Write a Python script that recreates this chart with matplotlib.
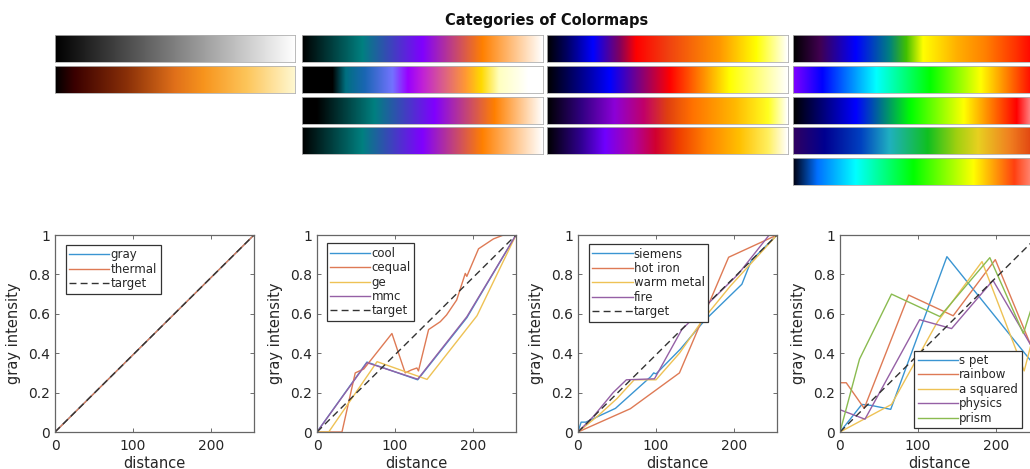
import numpy as np
import matplotlib
matplotlib.use("Agg")
import matplotlib.pyplot as plt
from matplotlib.colors import LinearSegmentedColormap

TITLE = "Categories of Colormaps"

# ---------------- colormap definitions (stop position, colour) ----------------
cm_gray = [(0.0, "#000000"), (1.0, "#ffffff")]
cm_thermal = [(0.0, "#000000"), (0.08, "#3a0000"), (0.3, "#8a3008"), (0.5, "#e0701a"),
              (0.62, "#f7941d"), (0.8, "#fdc55a"), (1.0, "#fff8d0")]
cm_cool = [(0.0, "#000000"), (0.25, "#008080"), (0.5, "#8000ff"), (0.75, "#ff8000"), (1.0, "#ffffff")]
cm_cequal = [(0.0, "#000000"), (0.125, "#000000"), (0.18, "#007080"), (0.26, "#1a66b3"),
             (0.375, "#7373ff"), (0.44, "#9900ff"), (0.5, "#c020d8"), (0.58, "#d85a90"),
             (0.68, "#ff9933"), (0.745, "#ffd900"), (0.82, "#ffffc0"), (0.94, "#ffffff"), (1.0, "#ffffff")]
cm_ge = [(0.0, "#000000"), (0.06, "#000000"), (0.30, "#008080"), (0.55, "#8000ff"),
         (0.80, "#ff8000"), (1.0, "#ffffff")]
cm_mmc = [(0.0, "#000000"), (0.25, "#008080"), (0.5, "#8000ff"), (0.75, "#ff8000"), (1.0, "#ffffff")]
cm_siemens = [(0.0, "#000000"), (0.08, "#000060"), (0.19, "#0000ff"), (0.3, "#800060"),
              (0.37, "#ff0000"), (0.5, "#f04010"), (0.72, "#ff9900"), (0.87, "#ffff00"), (1.0, "#ffffff")]
cm_hotiron = [(0.0, "#000000"), (0.26, "#0000ff"), (0.51, "#ff0000"), (0.76, "#ffff00"), (1.0, "#ffffff")]
cm_warmmetal = [(0.0, "#000000"), (0.14, "#300080"), (0.28, "#8c00d8"), (0.4, "#c0006a"),
                (0.5, "#e04010"), (0.6, "#ff7000"), (0.78, "#ffb800"), (0.92, "#ffff20"), (1.0, "#ffffff")]
cm_fire = [(0.0, "#000000"), (0.14, "#300090"), (0.24, "#7000ff"), (0.36, "#b000a0"),
           (0.45, "#d00030"), (0.55, "#f04000"), (0.66, "#ff8000"), (0.8, "#ffc000"),
           (0.92, "#fff060"), (1.0, "#ffffff")]
cm_spet = [(0.0, "#000000"), (0.11, "#400050"), (0.26, "#0000ff"), (0.4, "#008080"),
           (0.47, "#40c000"), (0.54, "#ffff00"), (0.68, "#ffb000"), (0.8, "#ff8000"),
           (0.93, "#ff3000"), (1.0, "#ff0000")]
cm_rainbow = [(0.0, "#8000ff"), (0.12, "#0000ff"), (0.345, "#00ffff"), (0.57, "#00ff00"),
              (0.78, "#ffff00"), (1.0, "#ff0000")]
cm_asquared = [(0.0, "#000000"), (0.26, "#0000ff"), (0.49, "#00ff00"), (0.71, "#ffff00"),
               (0.93, "#ff0000"), (1.0, "#ffa0a0")]
cm_physics = [(0.0, "#300060"), (0.13, "#000090"), (0.28, "#0040c0"), (0.4, "#20b0c0"),
              (0.56, "#10c020"), (0.68, "#a0d010"), (0.77, "#e8d020"), (0.9, "#f08020"), (1.0, "#e04010")]
cm_prism = [(0.0, "#000010"), (0.1, "#0070ff"), (0.26, "#00ffff"), (0.5, "#00ff00"),
            (0.75, "#ffff00"), (0.92, "#ff4010"), (1.0, "#ff9080")]

col_groups = [
    [("gray", cm_gray), ("thermal", cm_thermal)],
    [("cool", cm_cool), ("cequal", cm_cequal), ("ge", cm_ge), ("mmc", cm_mmc)],
    [("siemens", cm_siemens), ("hot iron", cm_hotiron), ("warm metal", cm_warmmetal), ("fire", cm_fire)],
    [("s pet", cm_spet), ("rainbow", cm_rainbow), ("a squared", cm_asquared),
     ("physics", cm_physics), ("prism", cm_prism)],
]

# ---------------- gray-intensity curves ----------------
gray_x = [0, 255];            gray_y = [0.0, 1.0]
thermal_x = [0, 255];         thermal_y = [0.0, 1.0]

cool_x = [0, 64, 129, 192, 255];        cool_y = [0.0, 0.355, 0.265, 0.58, 1.0]
cequal_x = [0, 32, 49, 60, 96, 113, 121, 128, 130, 143, 158, 166, 179, 190, 192, 207, 226, 239, 255]
cequal_y = [0.0, 0.0, 0.30, 0.32, 0.50, 0.30, 0.315, 0.325, 0.31, 0.52, 0.56, 0.594, 0.67,
            0.805, 0.79, 0.93, 0.98, 1.0, 1.0]
ge_x = [0, 15, 77, 141, 205, 255];      ge_y = [0.0, 0.0, 0.357, 0.267, 0.59, 1.0]
mmc_x = [0, 64, 129, 192, 255];         mmc_y = [0.0, 0.352, 0.268, 0.585, 1.0]

siemens_x = [0, 4, 10, 48, 93, 97, 100, 131, 162, 210, 222, 255]
siemens_y = [0.0, 0.05, 0.05, 0.12, 0.28, 0.30, 0.295, 0.42, 0.565, 0.75, 0.87, 1.0]
hotiron_x = [0, 67, 130, 193, 255];     hotiron_y = [0.0, 0.118, 0.30, 0.887, 1.0]
warmmetal_x = [0, 25, 50, 72, 100, 130, 160, 195, 225, 255]
warmmetal_y = [0.0, 0.08, 0.17, 0.265, 0.265, 0.40, 0.57, 0.74, 0.87, 1.0]
fire_x = [0, 20, 45, 62, 98, 133, 165, 205, 225, 245, 255]
fire_y = [0.0, 0.08, 0.2, 0.265, 0.27, 0.52, 0.645, 0.8, 0.9, 1.0, 1.0]

spet_x = [0, 28, 40, 65, 137, 255];           spet_y = [0.0, 0.14, 0.135, 0.115, 0.89, 0.31]
rainbow_x = [0, 8, 31, 88, 145, 199, 255];    rainbow_y = [0.25, 0.25, 0.12, 0.695, 0.59, 0.875, 0.34]
asquared_x = [0, 66, 125, 182, 236, 255];     asquared_y = [0.0, 0.14, 0.56, 0.865, 0.31, 0.60]
physics_x = [0, 32, 102, 143, 196, 255];      physics_y = [0.113, 0.065, 0.57, 0.525, 0.77, 0.37]
prism_x = [0, 25, 66, 128, 192, 235, 255];    prism_y = [0.0, 0.37, 0.70, 0.586, 0.885, 0.50, 0.75]

target_x = [0, 255];          target_y = [0.0, 1.0]

panels = [
    [("gray", gray_x, gray_y), ("thermal", thermal_x, thermal_y)],
    [("cool", cool_x, cool_y), ("cequal", cequal_x, cequal_y), ("ge", ge_x, ge_y), ("mmc", mmc_x, mmc_y)],
    [("siemens", siemens_x, siemens_y), ("hot iron", hotiron_x, hotiron_y),
     ("warm metal", warmmetal_x, warmmetal_y), ("fire", fire_x, fire_y)],
    [("s pet", spet_x, spet_y), ("rainbow", rainbow_x, rainbow_y), ("a squared", asquared_x, asquared_y),
     ("physics", physics_x, physics_y), ("prism", prism_x, prism_y)],
]
target_in_legend = [True, True, True, False]

xticks = [0, 100, 200]
xtick_labels = ["0", "100", "200"]
yticks = [0, 0.2, 0.4, 0.6, 0.8, 1.0]
ytick_labels = ["0", "0.2", "0.4", "0.6", "0.8", "1"]

line_colors = ["#3a95d2", "#de7a55", "#eec255", "#9560a5", "#8abb50"]

# ---------------- figure ----------------
W, H = 1030, 469
fig = plt.figure(figsize=(W / 100, H / 100), dpi=100)

def fr(x, y_top, w, h):
    return [x / W, 1 - (y_top + h) / H, w / W, h / H]

fig.text(547 / W, 1 - 20 / H, TITLE, ha="center", va="center",
         fontsize=10.5, fontweight="bold", color="#111111")

col_x = [55, 302, 547, 793]
col_w = [240, 241, 241, 241]
row_y = [35, 66, 97, 127, 158]
bar_h = 27
grad = np.linspace(0, 1, 256).reshape(1, -1)
for ci, group in enumerate(col_groups):
    for ri, (name, stops) in enumerate(group):
        cmap = LinearSegmentedColormap.from_list(name, stops, N=256)
        ax = fig.add_axes(fr(col_x[ci], row_y[ri], col_w[ci], bar_h))
        ax.imshow(grad, aspect="auto", cmap=cmap, interpolation="bilinear")
        ax.set_xticks([]); ax.set_yticks([])
        for s in ax.spines.values():
            s.set_color("#b0b0b0"); s.set_linewidth(0.6)

ax_x = [55, 317, 578, 840]
ax_top, ax_h, ax_w = 235, 197, 199
legend_anchor = [("upper left", (0.054, 0.95)), ("upper left", (0.049, 0.958)),
                 ("upper left", (0.055, 0.954)), ("lower right", (0.913, 0.019))]

for pi, series in enumerate(panels):
    ax = fig.add_axes(fr(ax_x[pi], ax_top, ax_w, ax_h))
    for si, (name, xs, ys) in enumerate(series):
        ax.plot(xs, ys, color=line_colors[si], lw=1.0, label=name)
    tlabel = "target" if target_in_legend[pi] else "_nolegend_"
    ax.plot(target_x, target_y, color="#333333", lw=1.0, ls=(0, (5, 3)), label=tlabel)
    ax.set_xlim(0, 255)
    ax.set_ylim(0, 1)
    ax.set_xticks(xticks)
    ax.set_xticklabels(xtick_labels)
    ax.set_yticks(yticks)
    ax.set_yticklabels(ytick_labels)
    ax.tick_params(direction="in", top=True, right=True, length=3, width=0.6,
                   color="#555555", labelsize=10, labelcolor="#262626")
    ax.tick_params(axis="y", pad=3.5)
    ax.tick_params(axis="x", pad=5)
    for s in ax.spines.values():
        s.set_color("#666666"); s.set_linewidth(0.9)
    ax.set_xlabel("distance", fontsize=10.5, color="#262626", labelpad=2)
    ax.set_ylabel("gray intensity", fontsize=10.5, color="#262626", labelpad=5)
    loc, anchor = legend_anchor[pi]
    leg = ax.legend(loc=loc, bbox_to_anchor=anchor, borderaxespad=0, fontsize=8.5,
                    fancybox=False, framealpha=1, edgecolor="#333333",
                    handlelength=3.4, handletextpad=0.1, labelspacing=0.12,
                    borderpad=0.3)
    leg.get_frame().set_linewidth(0.9)
    for t in leg.get_texts():
        t.set_color("#262626")

fig.savefig("out.png", dpi=100)
